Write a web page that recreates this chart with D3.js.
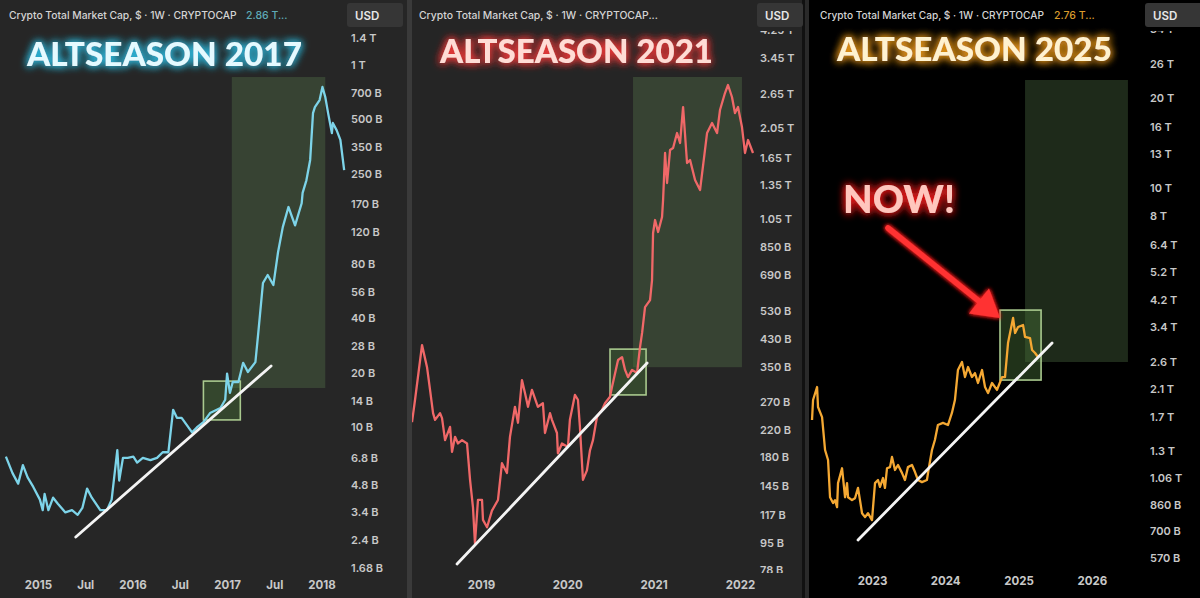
<!DOCTYPE html>
<html><head><meta charset="utf-8">
<script src="https://cdn.jsdelivr.net/npm/d3@7"></script>
<style>html,body{margin:0;padding:0;background:#000;overflow:hidden}</style>
</head><body><svg id="c" width="1200" height="598"></svg>
<script>
// ---------- DATA (decimal year, value in billions USD) ----------
const series2017 = [[2014.66,6.9],[2014.73,5.6],[2014.79,4.9],[2014.84,6.2],[2014.89,5.3],[2014.95,4.7],[2015.02,4.0],[2015.05,3.5],[2015.07,4.3],[2015.11,3.5],[2015.16,4.1],[2015.21,3.8],[2015.29,3.4],[2015.36,3.5],[2015.42,3.3],[2015.47,3.6],[2015.52,4.6],[2015.57,4.1],[2015.66,3.5],[2015.73,3.5],[2015.78,4.0],[2015.84,7.5],[2015.86,5.1],[2015.90,6.8],[2015.95,6.8],[2016.01,6.9],[2016.05,6.4],[2016.11,6.8],[2016.19,6.6],[2016.26,6.8],[2016.32,7.3],[2016.38,7.3],[2016.43,12.5],[2016.47,11.3],[2016.52,11.3],[2016.63,9.4],[2016.68,10.0],[2016.75,10.7],[2016.82,12.0],[2016.93,12.8],[2016.98,14.2],[2017.00,19.8],[2017.03,15.5],[2017.06,17.8],[2017.12,17.8],[2017.17,22.7],[2017.22,20.2],[2017.30,22.9],[2017.33,33.1],[2017.38,62.5],[2017.43,69.2],[2017.49,60.9],[2017.54,92.6],[2017.59,127],[2017.65,164],[2017.72,130],[2017.79,172],[2017.80,196],[2017.84,230],[2017.88,298],[2017.91,540],[2017.93,583],[2017.98,637],[2018.01,752],[2018.04,662],[2018.07,540],[2018.11,419],[2018.12,476],[2018.16,435],[2018.20,384],[2018.24,262]];
const series2021 = [[2018.20,233],[2018.235,275],[2018.316,412],[2018.374,350],[2018.409,296],[2018.444,249],[2018.467,237],[2018.525,249],[2018.548,240],[2018.583,204],[2018.641,225],[2018.664,187],[2018.699,209],[2018.733,199],[2018.780,204],[2018.838,199],[2018.873,152],[2018.907,124],[2018.930,95],[2018.965,131],[2019.012,131],[2019.023,113],[2019.070,107],[2019.127,121],[2019.197,131],[2019.243,172],[2019.301,160],[2019.336,209],[2019.394,261],[2019.429,232],[2019.475,318],[2019.510,289],[2019.545,261],[2019.591,296],[2019.660,261],[2019.718,268],[2019.742,215],[2019.800,249],[2019.823,237],[2019.881,215],[2019.892,185],[2019.939,199],[2020.008,194],[2020.031,237],[2020.089,285],[2020.124,275],[2020.147,225],[2020.182,152],[2020.228,163],[2020.263,189],[2020.298,204],[2020.344,242],[2020.402,255],[2020.437,268],[2020.495,281],[2020.518,302],[2020.588,369],[2020.634,377],[2020.669,343],[2020.703,325],[2020.750,343],[2020.808,335],[2020.842,406],[2020.866,451],[2020.900,546],[2020.958,575],[2020.981,667],[2020.993,945],[2021.016,1040],[2021.051,952],[2021.097,1063],[2021.109,1206],[2021.132,1708],[2021.155,1368],[2021.190,1746],[2021.225,1772],[2021.271,1980],[2021.306,1839],[2021.341,2400],[2021.387,1586],[2021.422,1622],[2021.480,1398],[2021.538,1299],[2021.619,1980],[2021.677,2132],[2021.735,1980],[2021.769,2347],[2021.827,2662],[2021.862,2825],[2021.908,2585],[2021.943,2296],[2021.978,2400],[2022.024,2070],[2022.059,1708],[2022.094,1880],[2022.152,1708]];
const series2025 = [[2022.181,1657],[2022.195,1934],[2022.250,2139],[2022.263,1833],[2022.318,1695],[2022.359,1314],[2022.400,1216],[2022.427,912],[2022.468,872],[2022.495,892],[2022.523,845],[2022.536,1017],[2022.591,1141],[2022.632,912],[2022.659,1017],[2022.673,912],[2022.727,892],[2022.768,905],[2022.809,980],[2022.836,892],[2022.864,806],[2022.905,782],[2022.945,806],[2023.000,764],[2023.041,1017],[2023.082,1042],[2023.109,988],[2023.150,1058],[2023.177,980],[2023.205,1141],[2023.246,1151],[2023.273,1245],[2023.314,1126],[2023.355,1170],[2023.409,1101],[2023.450,1042],[2023.491,1151],[2023.546,1170],[2023.587,1108],[2023.628,1042],[2023.682,1025],[2023.750,1042],[2023.778,1151],[2023.819,1314],[2023.859,1420],[2023.900,1594],[2023.969,1620],[2024.037,1594],[2024.091,1750],[2024.132,1934],[2024.173,2439],[2024.228,2595],[2024.269,2310],[2024.310,2497],[2024.364,2310],[2024.405,2382],[2024.446,2206],[2024.501,2439],[2024.542,2139],[2024.583,2041],[2024.637,2206],[2024.705,2091],[2024.774,2310],[2024.814,2310],[2024.855,3005],[2024.924,3647],[2024.951,3248],[2024.992,3401],[2025.060,3453],[2025.087,3149],[2025.155,3123],[2025.183,2847],[2025.224,2782],[2025.264,2697]];

// trend lines [start, end] as [year, value]
const trend2017 = [[2015.40,2.49],[2017.466,21.8]];
const trend2021 = [[2018.722,81.5],[2020.924,361]];
const trend2025 = [[2022.809,655],[2025.456,3005]];

// altseason zones [yearStart, yearEnd, valueTop, valueBottom]
const zone2017 = [2017.05,2018.04,853,16.5];
const zone2021 = [2020.761,2022.024,2998,350];
const zone2025 = [2025.087,2026.492,22974,2595];

// breakout boxes [yearStart, yearEnd, valueTop, valueBottom]
const box2017 = [2016.75,2017.14,18.0,11.0];
const box2021 = [2020.495,2020.912,400,285];
const box2025 = [2024.746,2025.306,3877,2257];

// axis ticks
const yTicks2017 = [1400,1000,700,500,350,250,170,120,80,56,40,28,20,14,10,6.8,4.8,3.4,2.4,1.68];
const yTicks2021 = [4250,3450,2650,2050,1650,1350,1050,850,690,530,430,350,270,220,180,145,117,95,78];
const yTicks2025 = [34000,26000,20000,16000,13000,10000,8000,6400,5200,4200,3400,2600,2100,1700,1300,1060,860,700,570];
const xTicks2017 = [2015,2015.5,2016,2016.5,2017,2017.5,2018];
const xLabels2017 = ['2015','Jul','2016','Jul','2017','Jul','2018'];
const xTicks2021 = [2019,2020,2021,2022];
const xLabels2021 = ['2019','2020','2021','2022'];
const xTicks2025 = [2023,2024,2025,2026];
const xLabels2025 = ['2023','2024','2025','2026'];

const titles = ['ALTSEASON 2017','ALTSEASON 2021','ALTSEASON 2025'];
const headerText = 'Crypto Total Market Cap, $ · 1W · CRYPTOCAP';
const lastValues = ['2.86 T...', '', '2.76 T...'];
// arrow annotation (panel 3) [year, value]
const arrow2025 = [[2023.218,7315],[2024.746,3647]];

// ---------- helpers ----------
function dy(y){const yr=Math.floor(y);const s=Date.UTC(yr,0,1),e=Date.UTC(yr+1,0,1);return new Date(s+(y-yr)*(e-s));}
function fmtV(v){return v>=1000?(+(v/1000).toFixed(2))+' T':v+' B';}

const svg=d3.select('#c');
const defs=svg.append('defs');
function glow(id,color,std){
  const f=defs.append('filter').attr('id',id).attr('x','-30%').attr('y','-80%').attr('width','160%').attr('height','260%');
  f.append('feGaussianBlur').attr('in','SourceAlpha').attr('stdDeviation',std).attr('result','b');
  f.append('feFlood').attr('flood-color',color).attr('result','c');
  f.append('feComposite').attr('in','c').attr('in2','b').attr('operator','in').attr('result','g');
  const m=f.append('feMerge');
  m.append('feMergeNode').attr('in','g');m.append('feMergeNode').attr('in','g');m.append('feMergeNode').attr('in','SourceGraphic');
}
glow('g1','#2fc3ea',4);glow('g2','#ff3b3b',4);glow('g3','#ffa51f',4);glow('g4','#ff1f1f',4);glow('ga','#ff2020',2);

const panels=[
 {x0:0,x1:407,bg:'#262626',plotR:346,axisX:351,usd:[347,403],hx:9,hw:228,vx:246,vColor:'#5eaab6',
  xd:[2015,2018],xr:[38,321.5],yd:[1400,1.68],yr:[38,568],yT:yTicks2017,xT:xTicks2017,xL:xLabels2017,xY:578,
  data:series2017,color:'#7dd4e9',trend:trend2017,zone:zone2017,box:box2017,
  title:titles[0],tx:27,tw:275,tb:66,tfill:'#e4faff',tglow:'g1',val:lastValues[0],labTop:28,labBot:598},
 {x0:412,x1:802,bg:'#252525',plotR:757,axisX:760,usd:[757,803],hx:419,hw:239,vx:0,vColor:'',
  xd:[2019,2022],xr:[481,739.9],yd:[3450,78],yr:[58,570],yT:yTicks2021,xT:xTicks2021,xL:xLabels2021,xY:578,
  data:series2021,color:'#f06868',trend:trend2021,zone:zone2021,box:box2021,
  title:titles[1],tx:440,tw:273,tb:63,tfill:'#ffdcd5',tglow:'g2',val:lastValues[1],labTop:31,labBot:573},
 {x0:809,x1:1200,bg:'#000000',plotR:1146,axisX:1150,usd:[1145,1202],hx:820,hw:224,vx:1054,vColor:'#d99b2c',
  xd:[2023,2026],xr:[872,1091.9],yd:[26000,570],yr:[64,558],yT:yTicks2025,xT:xTicks2025,xL:xLabels2025,xY:574,
  data:series2025,color:'#f4a833',trend:trend2025,zone:zone2025,box:box2025,
  title:titles[2],tx:837,tw:275,tb:61,tfill:'#fff2cf',tglow:'g3',val:lastValues[2],labTop:31,labBot:598}
];

// frame backgrounds
svg.append('rect').attr('x',0).attr('y',0).attr('width',1200).attr('height',598).attr('fill','#000');
svg.append('rect').attr('x',407).attr('y',0).attr('width',5).attr('height',598).attr('fill','#3a3a3a');
svg.append('rect').attr('x',802).attr('y',0).attr('width',3).attr('height',598).attr('fill','#111');
svg.append('rect').attr('x',805).attr('y',0).attr('width',4).attr('height',598).attr('fill','#2a2a2a');

let p3scales=null;
panels.forEach((p,i)=>{
  svg.append('rect').attr('x',p.x0).attr('y',0).attr('width',p.x1-p.x0).attr('height',598).attr('fill',p.bg);
  const x=d3.scaleUtc().domain(p.xd.map(dy)).range(p.xr);
  const y=d3.scaleLog().domain(p.yd).range(p.yr);
  if(i===2)p3scales={x,y};
  const cid='clip'+i;
  defs.append('clipPath').attr('id',cid).append('rect').attr('x',p.x0).attr('y',0).attr('width',p.plotR-p.x0).attr('height',576);
  const g=svg.append('g').attr('clip-path',`url(#${cid})`);
  // zone
  g.append('rect').attr('x',x(dy(p.zone[0]))).attr('y',y(p.zone[2]))
   .attr('width',x(dy(p.zone[1]))-x(dy(p.zone[0]))).attr('height',y(p.zone[3])-y(p.zone[2]))
   .attr('fill','rgb(92,132,80)').attr('fill-opacity',0.32);
  // box
  g.append('rect').attr('x',x(dy(p.box[0]))).attr('y',y(p.box[2]))
   .attr('width',x(dy(p.box[1]))-x(dy(p.box[0]))).attr('height',y(p.box[3])-y(p.box[2]))
   .attr('fill','rgb(70,110,55)').attr('fill-opacity',0.45).attr('stroke','#a9c98e').attr('stroke-width',1.6);
  // series
  const line=d3.line().x(d=>x(dy(d[0]))).y(d=>y(d[1]));
  g.append('path').datum(p.data).attr('d',line).attr('fill','none').attr('stroke',p.color)
   .attr('stroke-width',2.3).attr('stroke-linejoin','round');
  // trend
  g.append('path').datum(p.trend).attr('d',line).attr('fill','none').attr('stroke','#f4f4f4')
   .attr('stroke-width',2.8).attr('stroke-linecap','round');
  // y axis
  const lc='lab'+i;
  defs.append('clipPath').attr('id',lc).append('rect').attr('x',p.x0).attr('y',p.labTop).attr('width',p.x1-p.x0).attr('height',p.labBot-p.labTop);
  const ya=svg.append('g').attr('clip-path',`url(#${lc})`).append('g').attr('transform',`translate(${p.axisX-3},0)`)
   .call(d3.axisRight(y).tickValues(p.yT).tickFormat(fmtV).tickSize(0));
  ya.select('.domain').remove();
  ya.selectAll('text').attr('fill','#c8c8c8').attr('font-family','Inter, Roboto, sans-serif').attr('font-size',11).attr('font-weight',600);
  // x axis
  const xa=svg.append('g').attr('transform',`translate(0,${p.xY})`)
   .call(d3.axisBottom(x).tickValues(p.xT.map(dy)).tickFormat((d,k)=>p.xL[k]).tickSize(0));
  xa.select('.domain').remove();
  xa.selectAll('text').attr('fill','#c8c8c8').attr('font-family','Inter, Roboto, sans-serif').attr('font-size',11.5).attr('font-weight',700);
  // USD box
  svg.append('rect').attr('x',p.usd[0]).attr('y',3).attr('width',p.usd[1]-p.usd[0]).attr('height',24).attr('rx',3).attr('fill','#363636');
  svg.append('text').attr('x',p.usd[0]+8).attr('y',19.5).text('USD').attr('fill','#e8e8e8')
   .attr('font-family','Inter, Roboto, sans-serif').attr('font-size',11.5).attr('font-weight',600);
  // header: font size fitted so the natural width matches the reference width
  const ht=svg.append('text').attr('x',p.hx).attr('y',19).text(headerText+(i===1?'...':''))
   .attr('fill','#d4d4d4').attr('font-family','Inter, Roboto, sans-serif').attr('font-size',11).attr('font-weight',500);
  const nat=ht.node().getComputedTextLength();
  if(nat>0) ht.attr('font-size',(11*p.hw/nat).toFixed(2));
  if(p.val){
    svg.append('text').attr('x',p.vx).attr('y',19).text(p.val).attr('fill',p.vColor)
     .attr('font-family','Inter, Roboto, sans-serif').attr('font-size',10.5).attr('font-weight',500);
  }
  // title
  svg.append('text').attr('x',p.tx).attr('y',p.tb).text(p.title).attr('fill',p.tfill)
   .attr('font-family','Lato, "DejaVu Sans", sans-serif').attr('font-size',32).attr('font-weight',900)
   .attr('textLength',p.tw).attr('lengthAdjust','spacingAndGlyphs').attr('filter',`url(#${p.tglow})`);
});

// NOW! annotation + arrow in panel 3
svg.append('text').attr('x',843).attr('y',213).text('NOW!').attr('fill','#ffc6bd')
 .attr('font-family','Lato, "DejaVu Sans", sans-serif').attr('font-size',38).attr('font-weight',900)
 .attr('textLength',112).attr('lengthAdjust','spacingAndGlyphs').attr('filter','url(#g4)');
{
  const {x,y}=p3scales;
  const [a,b]=arrow2025.map(d=>[x(dy(d[0])),y(d[1])]);
  const ang=Math.atan2(b[1]-a[1],b[0]-a[0]);
  const L=27,Wd=16;
  const bx=b[0]-L*Math.cos(ang), by=b[1]-L*Math.sin(ang);
  const ag=svg.append('g').attr('filter','url(#ga)');
  ag.append('line').attr('x1',a[0]).attr('y1',a[1]).attr('x2',bx+4*Math.cos(ang)).attr('y2',by+4*Math.sin(ang)).attr('stroke','#ff3333').attr('stroke-width',5.5).attr('stroke-linecap','round');
  ag.append('path').attr('d',`M${b[0]},${b[1]}L${bx+Wd*Math.sin(ang)},${by-Wd*Math.cos(ang)}L${bx-Wd*Math.sin(ang)},${by+Wd*Math.cos(ang)}Z`)
   .attr('fill','#ff3333');
}
</script></body></html>
